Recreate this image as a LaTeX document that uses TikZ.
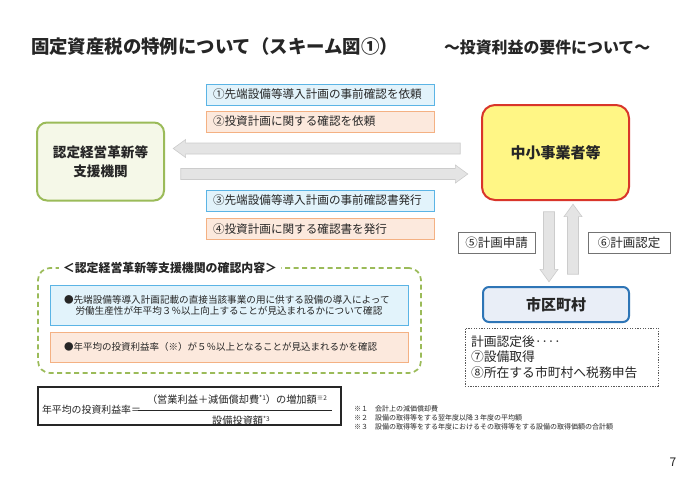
\documentclass[tikz,border=0pt]{standalone}
\usepackage{fontspec}
\setmainfont{Noto Sans CJK JP}
\usetikzlibrary{shapes.arrows}
\definecolor{grnB}{HTML}{9BBB59}
\definecolor{grnF}{HTML}{F5F8E8}
\definecolor{yelF}{HTML}{FFF685}
\definecolor{redB}{HTML}{D9352A}
\definecolor{bluB}{HTML}{2E75B6}
\definecolor{bluF}{HTML}{E9EEF7}
\definecolor{lbB}{HTML}{5BB4E5}
\definecolor{lbF}{HTML}{E2F3FB}
\definecolor{orB}{HTML}{F4B183}
\definecolor{orF}{HTML}{FCE9DD}
\definecolor{arF}{HTML}{E4E4E4}
\definecolor{arB}{HTML}{CCCCCC}
\definecolor{txt}{HTML}{262626}
\tikzset{
  bigbox/.style={draw, line width=2pt, rounded corners=#1, inner sep=0pt, font=\fontsize{15}{19}\selectfont\bfseries, align=center},
  lblbox/.style={draw, line width=1pt, minimum height=21pt, text width=214pt, inner xsep=7pt, inner ysep=0pt, align=left, font=\fontsize{11.6}{13}\selectfont},
  bluelbl/.style={lblbox, draw=lbB, fill=lbF},
  orlbl/.style={lblbox, draw=orB, fill=orF},
  blockarrow/.style={single arrow, draw=arB, fill=arF, line width=0.6pt, single arrow head extend=3.5pt, single arrow tip angle=72, single arrow head indent=0pt, inner sep=5.2pt},
  steplbl/.style={draw=black!55, fill=white, line width=0.7pt, minimum height=21pt, inner sep=0pt, font=\fontsize{12.5}{14}\selectfont},
  supx/.style={},
}
\newcommand{\sups}[1]{\raisebox{0.6ex}{\fontsize{6.5}{7}\selectfont #1}}
\begin{document}
\begin{tikzpicture}[x=1pt,y=-1pt, every node/.style={inner sep=0pt, outer sep=0pt, text=txt}]
\useasboundingbox[fill=white] (0,0) rectangle (690,488);
% titles
\node[anchor=west, font=\fontsize{18.4}{20}\selectfont\bfseries] (title) at (31,47) {固定資産税の特例について（スキーム図①）};
\node[anchor=west, font=\fontsize{15.9}{18}\selectfont\bfseries] (sub) at (444,47) {～投資利益の要件について～};
% main boxes
\node[bigbox=10pt, draw=grnB, fill=grnF, minimum width=127pt, minimum height=78pt, font=\fontsize{13.6}{19}\selectfont\bfseries] (ag) at (100.5,161.5) {認定経営革新等\\支援機関};
\node[bigbox=13pt, draw=redB, fill=yelF, minimum width=147pt, minimum height=95pt] (sme) at (555.5,152.5) {中小事業者等};
\node[bigbox=6pt, draw=bluB, fill=bluF, minimum width=146pt, minimum height=35pt] (city) at (556,304.5) {市区町村};
% label boxes
\node[bluelbl, anchor=west] (l1) at (206,94.5) {①先端設備等導入計画の事前確認を依頼};
\node[orlbl, anchor=west] (l2) at (206,121.5) {②投資計画に関する確認を依頼};
\node[bluelbl, anchor=west] (l3) at (206,200.5) {③先端設備等導入計画の事前確認書発行};
\node[orlbl, anchor=west] (l4) at (206,229) {④投資計画に関する確認書を発行};
% block arrows
\node[blockarrow, shape border rotate=180, minimum height=287pt] (aL) at (320.5,148.5) {};
\node[blockarrow, shape border rotate=0, minimum height=287pt] (aR) at (320.5,174) {};
\node[blockarrow, shape border rotate=270, minimum height=70pt] (aD) at (549,243) {};
\node[blockarrow, shape border rotate=90, minimum height=70pt] (aU) at (573,243) {};
\node[steplbl, minimum width=77pt] (s5) at (496.5,242.5) {⑤計画申請};
\node[steplbl, minimum width=82pt] (s6) at (629,242.5) {⑥計画認定};
% dotted note
\node[draw=black!65, dash pattern=on 1.3pt off 1.3pt, line width=0.8pt, minimum width=193pt, minimum height=58pt, text width=181pt, inner xsep=6pt, align=left, font=\fontsize{12.8}{15.5}\selectfont] (note) at (561.5,357) {計画認定後‥‥\\⑦設備取得\\⑧所在する市町村へ税務申告};
% green dashed group
\node[draw=grnB, line width=1.7pt, dash pattern=on 5pt off 3.5pt, rounded corners=12pt, minimum width=383pt, minimum height=105pt] (grp) at (229.5,320.5) {};
\node[fill=white, inner xsep=4pt, inner ysep=1pt, font=\fontsize{11.9}{13}\selectfont\bfseries] (grpT) at (170,268) {＜認定経営革新等支援機関の確認内容＞};
\node[draw=lbB, fill=lbF, line width=1pt, minimum width=358pt, minimum height=40pt] (in1) at (229,305) {};
\node[anchor=west, align=left, font=\fontsize{9.6}{11.5}\selectfont] (in1t) at (64,305.5) {●先端設備等導入計画記載の直接当該事業の用に供する設備の導入によって\\\hspace{1.2em}労働生産性が年平均３％以上向上することが見込まれるかについて確認};
\node[draw=orB, fill=orF, line width=1pt, minimum width=358pt, minimum height=30pt] (in2) at (229,347) {};
\node[anchor=west, font=\fontsize{9.5}{11}\selectfont] (in2t) at (64,347) {●年平均の投資利益率（※）が５％以上となることが見込まれるかを確認};
% formula
\node[draw=txt, line width=1.3pt, minimum width=303pt, minimum height=38pt] (fbox) at (189.5,406) {};
\node[anchor=west, font=\fontsize{9.9}{11}\selectfont] (flhs) at (42,410) {年平均の投資利益率＝};
\node[font=\fontsize{10.2}{11}\selectfont] (fnum) at (237,399.5) {（営業利益＋減価償却費\sups{*1}）の増加額\sups{※2}};
\node[font=\fontsize{10.2}{11}\selectfont] (fden) at (241,421) {設備投資額\sups{*3}};
\coordinate (barL) at (138,410);
\coordinate (barR) at (332,410);
\draw[line width=0.8pt, draw=txt] (barL) -- (barR);
% footnotes
\node[anchor=north west, align=left, font=\fontsize{7}{9}\selectfont] (fn) at (354,405.5) {※１　会計上の減価償却費\\※２　設備の取得等をする翌年度以降３年度の平均額\\※３　設備の取得等をする年度におけるその取得等をする設備の取得価額の合計額};
\node[font=\fontsize{12}{14}\selectfont] (pg) at (673,462) {7};
\end{tikzpicture}
\end{document}
